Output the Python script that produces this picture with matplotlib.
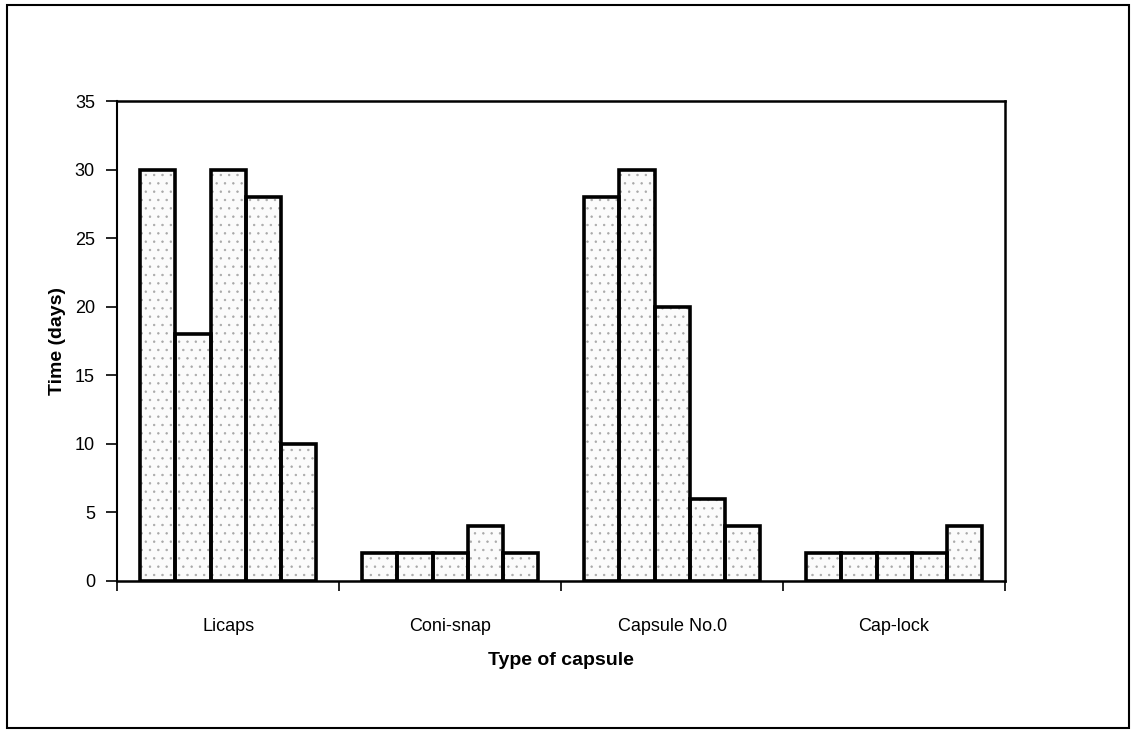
import matplotlib
matplotlib.use("Agg")
import matplotlib.pyplot as plt
import numpy as np
from matplotlib.patches import Rectangle

plt.rcParams['font.family'] = ['Liberation Sans', 'DejaVu Sans']
plt.rcParams['hatch.linewidth'] = 0.5

categories = ["Licaps", "Coni-snap", "Capsule No.0", "Cap-lock"]
series = [
    [30, 2, 28, 2],
    [18, 2, 30, 2],
    [30, 2, 20, 2],
    [28, 4, 6, 2],
    [10, 2, 4, 4],
]
yticks = [0, 5, 10, 15, 20, 25, 30, 35]

fig = plt.figure(figsize=(11.37, 7.38), dpi=100)
ax = fig.add_axes([0.103, 0.213, 0.781, 0.650])

x = np.arange(len(categories))
w = 0.158
for i, vals in enumerate(series):
    # stippled fill (light gray dots)
    ax.bar(x + (i - 2) * w, vals, width=w, facecolor='#fbfbfb', edgecolor='#a8a8a8',
           linewidth=0, hatch='..', zorder=3)
    # black outline
    ax.bar(x + (i - 2) * w, vals, width=w, fill=False, edgecolor='black',
           linewidth=2.6, zorder=4)

ax.set_xlim(-0.5, len(categories) - 0.5)
ax.set_ylim(0, 35)
ax.set_yticks(yticks)
ax.set_xticks(np.arange(len(categories) + 1) - 0.5)
ax.set_xticklabels([])
ax.set_xticks(x, minor=True)
ax.set_xticklabels(categories, minor=True, fontsize=13)
ax.tick_params(axis='x', which='minor', length=0, pad=27)
ax.tick_params(axis='x', which='major', direction='out', length=7, width=1.2)
ax.tick_params(axis='y', direction='out', length=8, width=1.2, labelsize=13, pad=8)
for s in ax.spines.values():
    s.set_linewidth(1.8)
ax.spines['left'].set_linewidth(1.5)

ax.set_ylabel("Time (days)", fontsize=14, fontweight='bold', labelpad=6)
ax.set_xlabel("Type of capsule", fontsize=14, fontweight='bold', labelpad=12)

fig.patches.append(Rectangle((0.006, 0.013), 0.987, 0.98, transform=fig.transFigure,
                             fill=False, edgecolor='black', linewidth=1.5))

fig.savefig("out.png", dpi=100)
